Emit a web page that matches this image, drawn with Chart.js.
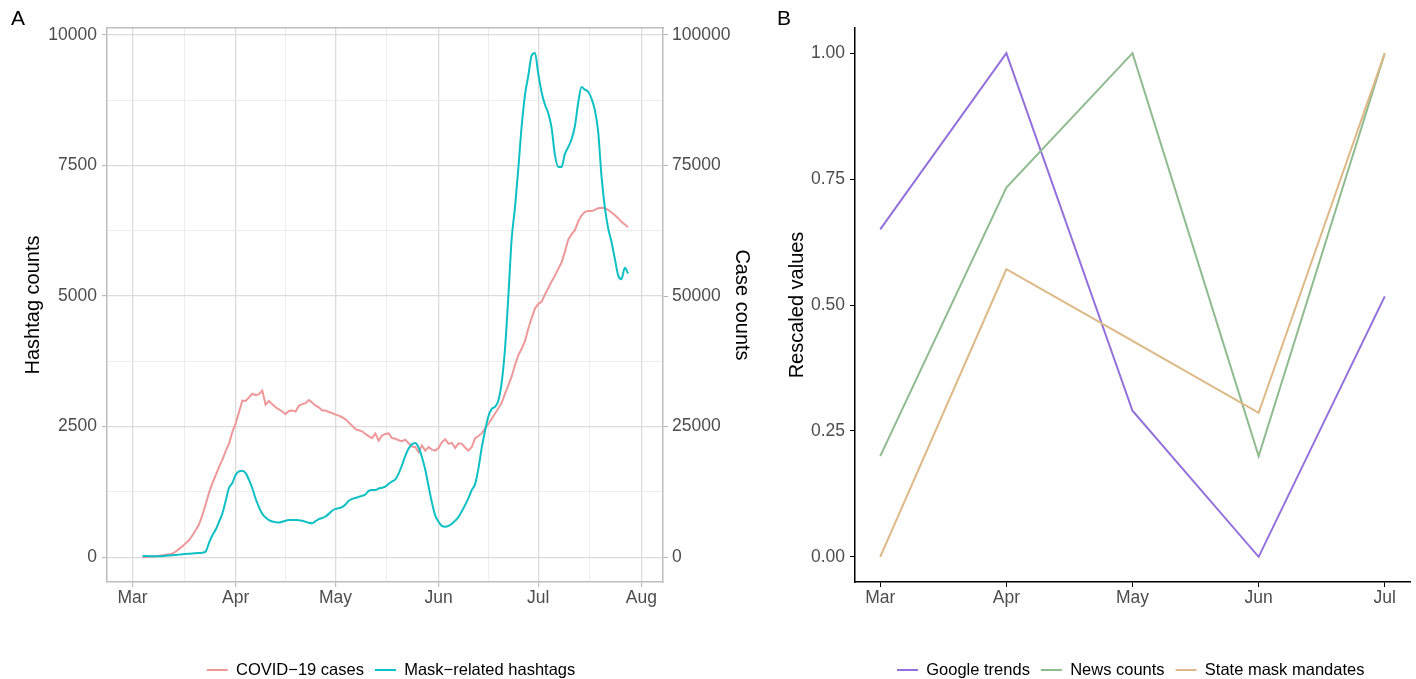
<!DOCTYPE html>
<html><head><meta charset="utf-8">
<script src="https://cdn.jsdelivr.net/npm/chart.js@4.4.1/dist/chart.umd.min.js"></script>
<style>
html,body{margin:0;padding:0;background:#fff;width:1416px;height:679px;overflow:hidden;font-family:'Liberation Sans',Arial,Helvetica,sans-serif;}
#wrapA{position:absolute;left:0;top:0;width:770px;height:679px;}
#wrapB{position:absolute;left:770px;top:0;width:646px;height:679px;}
.tag{position:absolute;font-size:21px;line-height:21px;color:#000;}
</style></head><body>
<div id="wrapA"><canvas id="chartA" width="770" height="679"></canvas></div>
<div id="wrapB"><canvas id="chartB" width="646" height="679"></canvas></div>
<div class="tag" style="left:11px;top:7px">A</div>
<div class="tag" style="left:777px;top:7px">B</div>
<script>
// ---------- Panel A data (daily, starting Mar 4 = day 3 after Mar 1) ----------
const firstDay = 3;
const covidCases = [
0,50,100,150,200,280,380,480,550,700,1100,1600,2100,2700,3300,4200,5200,6300,8100,10200,12400,14200,15700,17300,18700,20300,21800,24000,25600,27800,30000,29900,30600,31300,31000,31200,31900,29200,29900,29300,28700,28300,27900,27400,28000,28100,27900,29000,29300,29500,30100,29600,29000,28700,28100,28100,27800,27600,27300,27100,26800,26400,25800,25200,24500,24300,24100,23600,23200,22800,23700,22300,23300,23600,23700,22800,22700,22400,22200,22500,21800,21200,21100,20100,21400,20400,21100,20600,20400,20900,22000,22600,21700,21900,20900,21800,21700,21000,20400,21100,22800,23200,23700,24700,25500,26500,27500,28500,29600,31300,32900,34600,36800,38700,39900,41400,43800,45800,47600,48500,48900,50300,51500,52800,53900,55200,56400,58500,60800,61800,62600,64300,65400,66100,66250,66250,66500,66800,66900,66800,66500,66000,65500,64900,64200,63700,63200
];
const maskHashtags = [
25,22,20,20,20,20,22,28,35,40,45,50,57,62,67,72,78,82,88,110,280,420,530,680,840,1080,1330,1420,1580,1645,1655,1610,1480,1320,1120,960,830,760,710,685,672,665,680,700,712,715,712,710,700,680,660,650,690,730,750,780,830,890,925,940,960,1010,1080,1115,1135,1155,1175,1200,1270,1285,1285,1315,1330,1350,1405,1450,1490,1600,1760,1940,2080,2160,2185,2100,1920,1680,1360,1050,800,680,600,585,600,640,700,770,880,1000,1130,1290,1400,1700,2100,2420,2700,2840,2880,3000,3350,4000,5000,6100,6700,7450,8250,8850,9220,9600,9650,9250,8900,8660,8500,8220,7700,7470,7470,7720,7850,8000,8250,8700,9000,8950,8910,8780,8560,8150,7300,6700,6300,6040,5720,5400,5320,5540,5430
];
const monthStartDays = [0,31,61,92,122,153];
const monthNamesA = ['Mar','Apr','May','Jun','Jul','Aug'];
const hashtagTicks = [0,2500,5000,7500,10000];
const caseTicks = [0,25000,50000,75000,100000];

// ---------- Panel B data ----------
const monthsB = ['Mar','Apr','May','Jun','Jul'];
const googleTrends = [0.65,1.00,0.29,0.00,0.517];
const newsCounts = [0.20,0.733,1.00,0.20,1.00];
const stateMandates = [0.00,0.571,0.429,0.286,1.00];
const rescaledTicks = [0,0.25,0.5,0.75,1];

Chart.defaults.font.family = "'Liberation Sans', Arial, Helvetica, sans-serif";
Chart.defaults.color = '#4D4D4D';

const legendShift = {
  id: 'legendShift',
  afterLayout(chart, args, opts) {
    const l = chart.legend;
    if (!l) return;
    const dx = opts.dx || 0, dy = opts.dy || 0;
    l.left += dx; l.right += dx; l.top += dy; l.bottom += dy;
  }
};

const toPts = (vals) => vals.map((v, i) => ({x: firstDay + i, y: v}));
const midpoints = (arr) => arr.slice(0, -1).map((v, i) => (v + arr[i + 1]) / 2);

const xTicksA = monthStartDays.concat(midpoints(monthStartDays)).sort((a,b)=>a-b);
const yTicksA = hashtagTicks.concat(midpoints(hashtagTicks)).sort((a,b)=>a-b);
const isMajorX = v => monthStartDays.includes(v);
const isMajorY = v => hashtagTicks.includes(v);

const tickFont = {size: 17.5};
const titleFont = {size: 20};
const legendLabels = {usePointStyle: true, pointStyle: 'line', pointStyleWidth: 21, padding: 11, font: {size: 16.5}, color: '#000',
  sort: (a, b) => a.datasetIndex - b.datasetIndex};

new Chart(document.getElementById('chartA'), {
  type: 'line',
  data: {
    datasets: [
      {label: 'COVID\u221219 cases', data: toPts(covidCases), yAxisID: 'y2', xAxisID: 'x',
       borderColor: 'rgb(238,152,154)', backgroundColor: 'rgb(238,152,154)', borderWidth: 2, pointRadius: 0, tension: 0, order: 2},
      {label: 'Mask\u2212related hashtags', data: toPts(maskHashtags), yAxisID: 'y', xAxisID: 'x',
       borderColor: '#0DC0C4', backgroundColor: '#0DC0C4', borderWidth: 2, pointRadius: 0, tension: 0.3, cubicInterpolationMode: 'monotone', order: 1}
    ]
  },
  plugins: [legendShift],
  options: {
    responsive: false, animation: false, devicePixelRatio: 1,
    layout: {padding: {left: 0, right: 0, top: 28, bottom: 0}, autoPadding: false},
    plugins: {
      legend: {position: 'bottom', labels: legendLabels},
      legendShift: {dx: 6, dy: 9.25},
      tooltip: {enabled: false}
    },
    scales: {
      x: {
        type: 'linear', position: 'bottom', min: -7.7, max: 159.5,
        afterBuildTicks: s => { s.ticks = xTicksA.map(v => ({value: v})); },
        afterFit: s => { s.height = 59.5; },
        ticks: {autoSkip: false, maxRotation: 0, padding: 1, font: tickFont,
          callback: v => { const i = monthStartDays.indexOf(v); return i >= 0 ? monthNamesA[i] : ''; }},
        grid: {color: c => isMajorX(c.tick.value) ? '#DCDCDC' : '#E9E9E9',
               lineWidth: c => isMajorX(c.tick.value) ? 1.3 : 0.8,
               tickColor: c => isMajorX(c.tick.value) ? '#B3B3B3' : 'rgba(0,0,0,0)',
               tickLength: 5, tickWidth: 1},
        border: {color: '#BDBDBD', width: 1.5}
      },
      xTop: {
        type: 'linear', position: 'top', min: -7.7, max: 159.5, display: true,
        ticks: {display: false}, grid: {display: false, drawTicks: false},
        border: {display: true, color: '#BDBDBD', width: 1.5},
        afterFit: s => { s.height = 0; }
      },
      y: {
        type: 'linear', position: 'left', min: -474, max: 10130,
        afterBuildTicks: s => { s.ticks = yTicksA.map(v => ({value: v})); },
        afterFit: s => { s.width = 107; },
        ticks: {autoSkip: false, padding: 5, font: tickFont,
          callback: v => isMajorY(v) ? String(v) : ''},
        grid: {color: c => isMajorY(c.tick.value) ? '#DCDCDC' : '#E9E9E9',
               lineWidth: c => isMajorY(c.tick.value) ? 1.3 : 0.8,
               tickColor: c => isMajorY(c.tick.value) ? '#B3B3B3' : 'rgba(0,0,0,0)',
               tickLength: 5, tickWidth: 1},
        border: {color: '#BDBDBD', width: 1.5},
        title: {display: true, text: 'Hashtag counts', font: titleFont, color: '#000', padding: {top: 21, bottom: 0}}
      },
      y2: {
        type: 'linear', position: 'right', min: -4740, max: 101300,
        afterBuildTicks: s => { s.ticks = caseTicks.map(v => ({value: v})); },
        afterFit: s => { s.width = 107; },
        ticks: {autoSkip: false, padding: 4, font: tickFont, callback: v => String(v)},
        grid: {drawOnChartArea: false, color: '#B3B3B3', tickColor: '#B3B3B3', tickLength: 5, tickWidth: 1},
        border: {color: '#BDBDBD', width: 1.5},
        title: {display: true, text: 'Case counts', font: titleFont, color: '#000', padding: {top: 16, bottom: 0}}
      }
    }
  }
});

new Chart(document.getElementById('chartB'), {
  type: 'line',
  data: {
    datasets: [
      {label: 'Google trends', data: googleTrends.map((v, i) => ({x: i, y: v})),
       borderColor: '#9370DB', backgroundColor: '#9370DB', borderWidth: 2, pointRadius: 0, tension: 0, order: 3},
      {label: 'News counts', data: newsCounts.map((v, i) => ({x: i, y: v})),
       borderColor: '#8FBC8F', backgroundColor: '#8FBC8F', borderWidth: 2, pointRadius: 0, tension: 0, order: 2},
      {label: 'State mask mandates', data: stateMandates.map((v, i) => ({x: i, y: v})),
       borderColor: '#DEB887', backgroundColor: '#DEB887', borderWidth: 2, pointRadius: 0, tension: 0, order: 1}
    ]
  },
  plugins: [legendShift],
  options: {
    responsive: false, animation: false, devicePixelRatio: 1,
    layout: {padding: {left: 0, right: 6, top: 28, bottom: 0}, autoPadding: false},
    plugins: {
      legend: {position: 'bottom', labels: legendLabels},
      legendShift: {dx: 40.7, dy: 9.25},
      tooltip: {enabled: false}
    },
    scales: {
      x: {
        type: 'linear', min: -0.2, max: 4.2,
        afterBuildTicks: s => { s.ticks = monthsB.map((m, i) => ({value: i})); },
        afterFit: s => { s.height = 59.5; },
        ticks: {autoSkip: false, maxRotation: 0, padding: 1, font: tickFont, callback: v => monthsB[v] || ''},
        grid: {drawOnChartArea: false, color: '#000', tickColor: '#000', tickLength: 5, tickWidth: 1},
        border: {color: '#000', width: 1.5}
      },
      y: {
        type: 'linear', min: -0.05, max: 1.05,
        afterBuildTicks: s => { s.ticks = rescaledTicks.map(v => ({value: v})); },
        afterFit: s => { s.width = 85; },
        ticks: {autoSkip: false, padding: 5, font: tickFont, callback: v => Number(v).toFixed(2)},
        grid: {drawOnChartArea: false, color: '#000', tickColor: '#000', tickLength: 5, tickWidth: 1},
        border: {color: '#000', width: 1.5},
        title: {display: true, text: 'Rescaled values', font: titleFont, color: '#000', padding: {top: 15, bottom: 0}}
      }
    }
  }
});
</script>
</body></html>
